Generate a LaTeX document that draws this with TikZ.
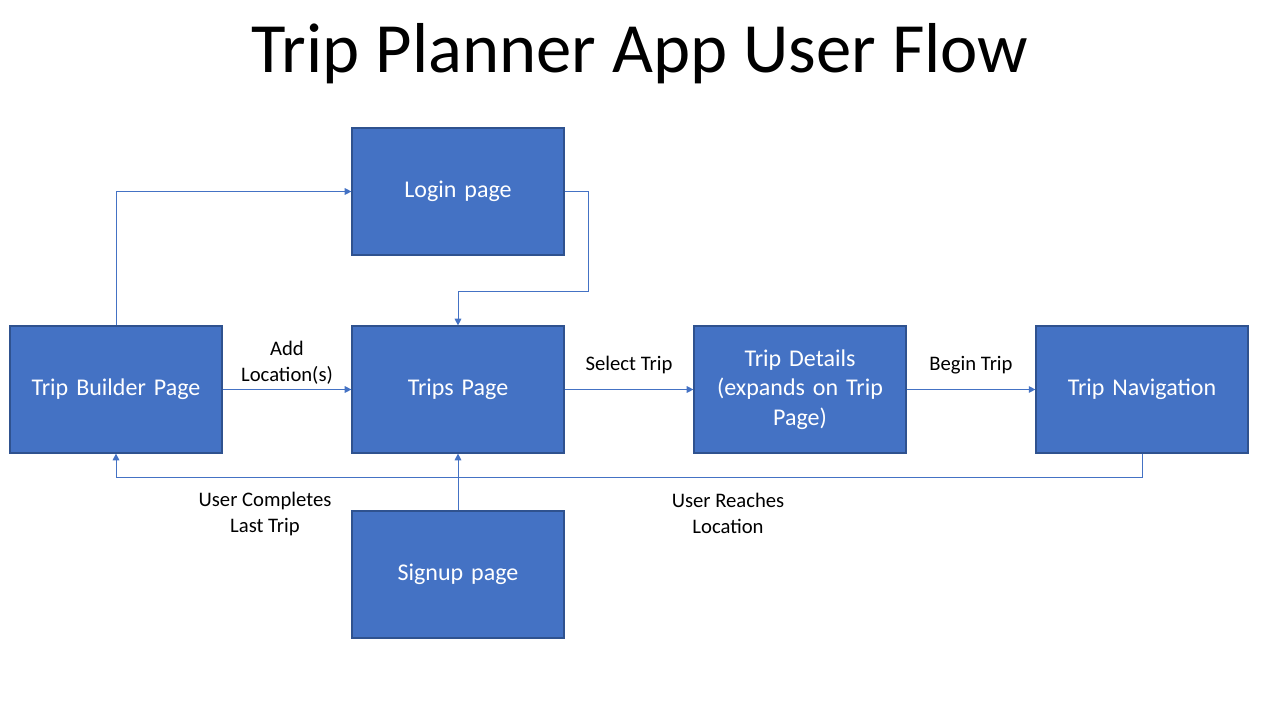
\documentclass[tikz,border=0pt]{standalone}
\usepackage{fontspec}
\setmainfont{Carlito}
\usetikzlibrary{arrows.meta}
\definecolor{boxfill}{HTML}{4472C4}
\definecolor{boxline}{HTML}{2F528F}
\definecolor{linkcol}{HTML}{4472C4}
\begin{document}
\begin{tikzpicture}[x=0.75pt,y=-0.75pt,
  pagebox/.style={draw=boxline,line width=0.9pt,fill=boxfill,text=white,
    minimum width=159pt,minimum height=95.25pt,inner sep=2pt,align=center,
    font=\fontsize{18}{22}\selectfont,text width=150pt},
  link/.style={draw=linkcol,line width=0.75pt,-{Triangle[length=5pt,width=5pt]}},
  lbl/.style={font=\fontsize{15.5}{19.5}\selectfont,align=center,text=black}]
\useasboundingbox (0,0) rectangle (1280,720);
\fill[white] (0,0) rectangle (1280,720);
\node[font=\fontsize{53}{60}\selectfont] (title) at (640,54) {Trip Planner App User Flow};
\node[pagebox] (login) at (458,191.5) {Login page};
\node[pagebox] (builder) at (116,389.5) {Trip Builder Page};
\node[pagebox] (trips) at (458,389.5) {Trips Page};
\node[pagebox] (details) at (800,389.5) {Trip Details\\(expands on Trip\\Page)};
\node[pagebox] (nav) at (1142,389.5) {Trip Navigation};
\node[pagebox] (signup) at (458,574.5) {Signup page};
\coordinate (c1) at (588,291);
\coordinate (c2) at (116,477);
\draw[link] (builder.north) |- (login.west);
\draw[link] (login.east) -| (c1) -| (trips.north);
\draw[link] (builder.east) -- node[lbl,above=0pt] {Add\\Location(s)} (trips.west);
\draw[link] (trips.east) -- node[lbl,above=8pt] {Select Trip} (details.west);
\draw[link] (details.east) -- node[lbl,above=8pt] {Begin Trip} (nav.west);
\draw[link] (nav.south) |- (c2) -- (builder.south);
\draw[link] (signup.north) -- (trips.south);
\node[lbl] (l1) at (265,513.5) {User Completes\\Last Trip};
\node[lbl] (l2) at (728,513.5) {User Reaches\\Location};
\end{tikzpicture}
\end{document}
